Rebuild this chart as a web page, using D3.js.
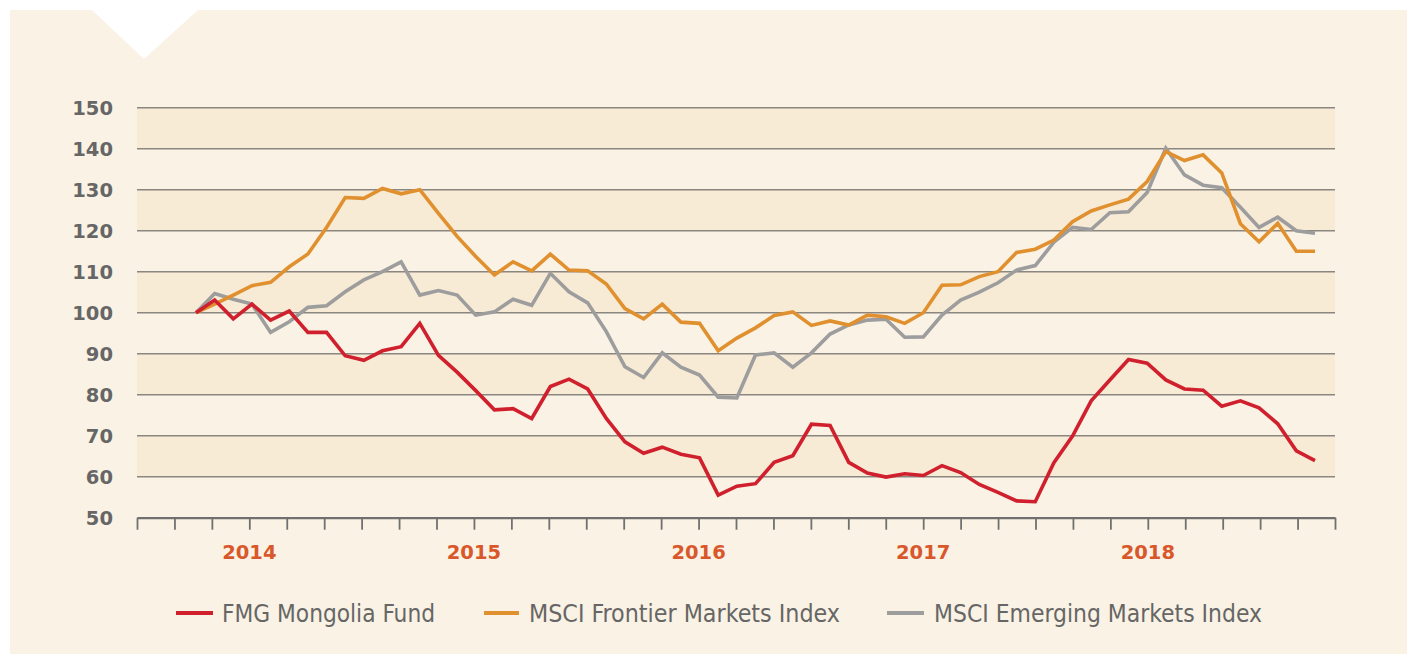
<!DOCTYPE html>
<html>
<head>
<meta charset="utf-8">
<script src="https://cdn.jsdelivr.net/npm/d3@7"></script>
<style>
html,body{margin:0;padding:0;background:#ffffff;}
svg{display:block;}
</style>
</head>
<body>
<svg id="chart" width="1407" height="656"></svg>
<script>
// ---- data ----
const seriesNames = ["FMG Mongolia Fund", "MSCI Frontier Markets Index", "MSCI Emerging Markets Index"];
const fmgMongolia = [100,103.1,98.5,102.1,98.2,100.4,95.2,95.2,89.5,88.4,90.7,91.7,97.4,89.6,85.5,81,76.3,76.6,74.2,82,83.8,81.4,74.2,68.5,65.7,67.2,65.5,64.6,55.5,57.7,58.3,63.5,65.1,72.8,72.5,63.5,60.9,59.9,60.7,60.3,62.7,61,58.1,56.2,54.1,53.9,63.4,69.9,78.5,83.6,88.6,87.7,83.6,81.4,81.1,77.2,78.5,76.8,72.9,66.3,63.9];
const msciFrontier = [100,102.1,104.3,106.6,107.4,111.2,114.3,120.8,128.1,127.9,130.3,129,130,124.2,118.6,113.7,109.2,112.4,110.2,114.3,110.4,110.2,107,101,98.5,102.1,97.7,97.4,90.7,93.8,96.3,99.3,100.2,96.9,98,97,99.4,99,97.4,100,106.7,106.8,108.8,110,114.7,115.5,117.7,122.2,124.8,126.3,127.7,132,139.3,137.1,138.5,134.1,121.7,117.3,121.8,115,115];
const msciEmerging = [100,104.7,103.3,102.1,95.2,97.8,101.3,101.7,105.1,108,110,112.4,104.3,105.4,104.3,99.4,100.2,103.3,101.8,109.6,105.1,102.4,95.4,86.8,84.2,90.2,86.7,84.8,79.4,79.2,89.7,90.2,86.7,90.2,94.8,97,98.2,98.4,94,94.1,99.4,103.1,105,107.3,110.4,111.5,117.2,120.8,120.3,124.4,124.6,129.3,140.1,133.6,131.1,130.5,125.7,120.8,123.3,120,119.4];
const yTicks = [50,60,70,80,90,100,110,120,130,140,150];
const yearLabels = ["2014","2015","2016","2017","2018"];
const seriesColors = ["#d0202e","#e0902f","#9d9d9d"];

// ---- layout ----
const svg = d3.select("#chart");
const plotLeft = 137, plotRight = 1335, plotTop = 107.7, plotBottom = 517.7;

// background panel with notch
const panel = d3.path();
panel.moveTo(10,10); panel.lineTo(92,10); panel.lineTo(144,59); panel.lineTo(198,10);
panel.lineTo(1407,10); panel.lineTo(1407,654); panel.lineTo(10,654); panel.closePath();
svg.append("path").attr("d", panel.toString()).attr("fill","#faf2e4");

const y = d3.scaleLinear().domain([50,150]).range([plotBottom, plotTop]);
const xTick = d3.scaleLinear().domain([0,32]).range([plotLeft, plotRight]);
const xPt = d3.scaleLinear().domain([0,60]).range([196,1315]);

// alternating bands
const bandStarts = [140,120,100,80,60];
svg.append("g").selectAll("rect").data(bandStarts).join("rect")
  .attr("x", plotLeft).attr("width", plotRight - plotLeft)
  .attr("y", d => y(d+10)).attr("height", d => y(d) - y(d+10))
  .attr("fill", "#f8ebd6");

// gridlines
svg.append("g").selectAll("line").data(yTicks.filter(d => d > 50)).join("line")
  .attr("x1", plotLeft).attr("x2", plotRight)
  .attr("y1", d => y(d)).attr("y2", d => y(d))
  .attr("stroke", "#8a8680").attr("stroke-width", 1.4);

// y labels
svg.append("g").selectAll("text").data(yTicks).join("text")
  .attr("x", 113).attr("y", d => y(d)).attr("dy","0.36em")
  .attr("text-anchor","end")
  .attr("font-family","'DejaVu Sans', Verdana, sans-serif").attr("font-weight","bold")
  .attr("font-size","19.5px").attr("fill","#666666")
  .text(d => d);

// x axis
const xAxis = d3.axisBottom(xTick).tickValues(d3.range(0,33)).tickSize(12).tickSizeOuter(0).tickFormat("");
const ax = svg.append("g").attr("transform", `translate(0,${plotBottom})`).call(xAxis);
ax.select(".domain").attr("stroke","#707070").attr("stroke-width",2.2);
ax.selectAll(".tick line").attr("stroke","#707070").attr("stroke-width",1.8);

// year labels
svg.append("g").selectAll("text").data(yearLabels).join("text")
  .attr("x", (d,i) => xTick(3 + i*6)).attr("y", 552).attr("dy","0.36em")
  .attr("text-anchor","middle")
  .attr("font-family","'DejaVu Sans', Verdana, sans-serif").attr("font-weight","bold")
  .attr("font-size","19.5px").attr("fill","#d9582b")
  .text(d => d);

// lines (draw gray, orange, then red on top)
const allSeries = [fmgMongolia, msciFrontier, msciEmerging];
const line = d3.line().x((d,i) => xPt(i)).y(d => y(d));
[2,1,0].forEach(k => {
  svg.append("path").datum(allSeries[k])
    .attr("d", line).attr("fill","none")
    .attr("stroke", seriesColors[k]).attr("stroke-width", 3.6)
    .attr("stroke-linejoin","miter").attr("stroke-linecap","butt");
});

// legend
const legendItems = [
  {sx:176, ex:213, tx:222, tw:213},
  {sx:484, ex:519, tx:529, tw:311},
  {sx:887, ex:924, tx:934, tw:328}
];
const lg = svg.append("g");
legendItems.forEach((it,i) => {
  lg.append("line").attr("x1", it.sx).attr("x2", it.ex).attr("y1", 613).attr("y2", 613)
    .attr("stroke", seriesColors[i]).attr("stroke-width", 4);
  lg.append("text").attr("x", it.tx).attr("y", 622)
    .attr("font-family","'Liberation Sans Narrow', 'DejaVu Sans Condensed', 'Liberation Sans', sans-serif")
    .attr("font-size","24px").attr("fill","#666666")
    .attr("textLength", it.tw).attr("lengthAdjust","spacingAndGlyphs")
    .text(seriesNames[i]);
});
</script>
</body>
</html>
